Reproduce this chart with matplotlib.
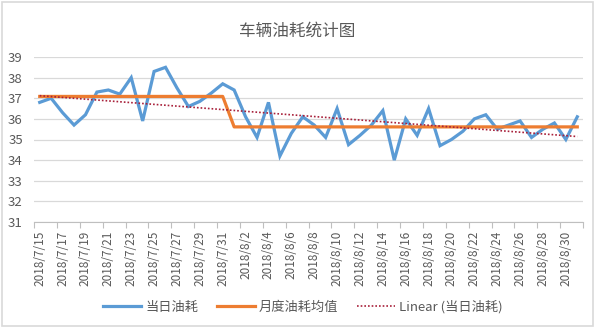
import numpy as np
import pandas as pd
import matplotlib
matplotlib.use('Agg')
import matplotlib.pyplot as plt
from matplotlib.lines import Line2D
from matplotlib.patches import Rectangle

plt.rcParams['font.family'] = ['Noto Sans CJK SC', 'DejaVu Sans']

# daily fuel use, 2018/7/15 - 2018/8/31
dates = pd.date_range('2018-07-15', '2018-08-31', freq='D')
july_use = [36.8, 37.0, 36.3, 35.7, 36.2, 37.3, 37.4, 37.2, 38.0, 35.9,
            38.3, 38.5, 37.5, 36.6, 36.85, 37.25, 37.7]
aug_use = [37.4, 36.1, 35.1, 36.8, 34.2, 35.3, 36.1, 35.7, 35.1, 36.5,
           34.75, 35.2, 35.7, 36.4, 34.0, 36.0, 35.2, 36.5, 34.7, 35.0,
           35.4, 36.0, 36.2, 35.5, 35.7, 35.9, 35.1, 35.5, 35.8, 35.0, 36.1]
daily_use = july_use + aug_use
y_ticks = [31, 32, 33, 34, 35, 36, 37, 38, 39]

df = pd.DataFrame({'date': dates, 'use': daily_use})
df['month_avg'] = df.groupby(df['date'].dt.month)['use'].transform('mean')
labels = [f"{d.year}/{d.month}/{d.day}" for d in dates]

x = np.arange(len(df))
slope, icpt = np.polyfit(x, df['use'], 1)   # excel style linear trendline

BLUE = '#5B9BD5'
ORANGE = '#ED7D31'
TREND = '#A8203A'
GRAY = '#595959'

fig = plt.figure(figsize=(6, 3.28), dpi=100)
ax = fig.add_axes([34 / 600, 1 - 222 / 328, 549 / 600, 165 / 328])

ax.plot(x, df['use'], color=BLUE, lw=2.3, solid_joinstyle='miter', zorder=3)
ax.plot(x, df['month_avg'], color=ORANGE, lw=2.3, zorder=4)
ax.plot(x, slope * x + icpt, color=TREND, lw=1.2, ls=(0, (1, 1.2)), zorder=5)

ax.set_xlim(-0.5, len(df) - 0.5)
ax.set_ylim(31, 39)
ax.set_yticks(y_ticks)
ax.grid(axis='y', color='#D9D9D9', lw=0.9)
ax.set_axisbelow(True)

# tick marks between categories, labels on every 2nd day
ax.set_xticks(np.arange(-0.5, len(df), 2))
ax.set_xticklabels([])
ax.set_xticks(x[::2], minor=True)
ax.set_xticklabels(labels[::2], minor=True, rotation=90, fontsize=8.5, color=GRAY)
ax.tick_params(axis='x', which='major', length=4, color='#BFBFBF', width=0.8)
ax.tick_params(axis='x', which='minor', length=0, pad=6)
ax.tick_params(axis='y', length=0, labelsize=9.5, labelcolor=GRAY, pad=8)

for s in ['top', 'right', 'left']:
    ax.spines[s].set_visible(False)
ax.spines['bottom'].set_color('#BFBFBF')
ax.spines['bottom'].set_linewidth(0.8)

fig.text(0.495, 1 - 31 / 328, '车辆油耗统计图', ha='center', va='center',
         fontsize=12, color=GRAY)

handles = [Line2D([], [], color=BLUE, lw=2.3),
           Line2D([], [], color=ORANGE, lw=2.3),
           Line2D([], [], color=TREND, lw=1.2, ls=(0, (1, 1.2)))]
fig.legend(handles, ['当日油耗', '月度油耗均值', 'Linear (当日油耗)'],
           loc='center', bbox_to_anchor=(0.505, 1 - 307 / 328), ncol=3,
           frameon=False, fontsize=9.5, labelcolor=GRAY, handlelength=2.9,
           handletextpad=0.3, columnspacing=1.4)

# chart border
fig.patches.append(Rectangle((0.004, 0.006), 0.985, 0.988, transform=fig.transFigure,
                             fill=False, ec='#D9D9D9', lw=1.2))

fig.savefig('out.png', dpi=100)
